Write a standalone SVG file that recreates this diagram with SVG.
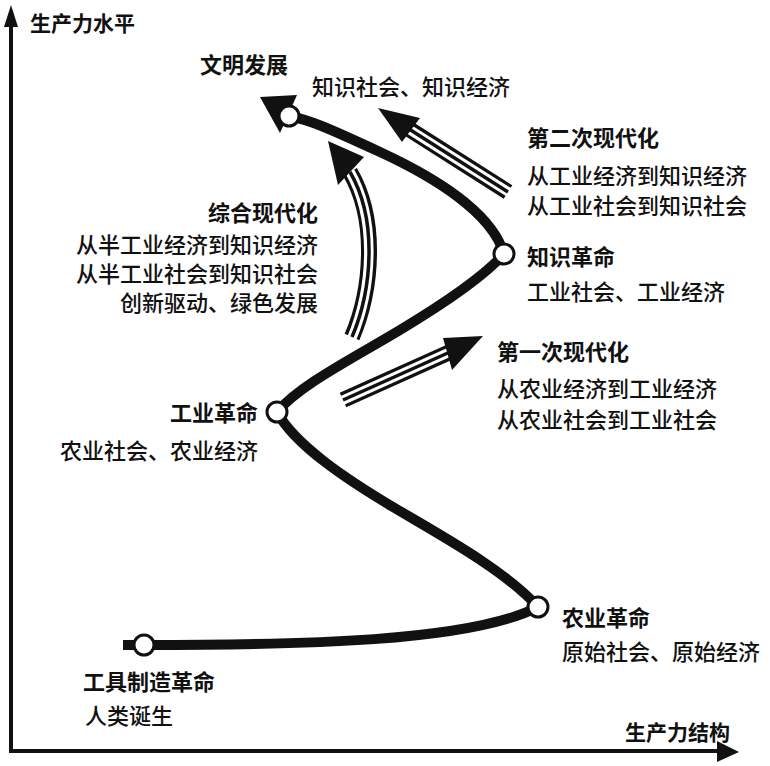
<svg xmlns="http://www.w3.org/2000/svg" width="770" height="766" viewBox="0 0 770 766">
<style>
text{font-family:"Noto Sans CJK SC","Noto Sans",sans-serif;font-size:22px;fill:#111;font-weight:500}
.t{font-weight:700}
.ax{font-weight:700;font-size:21px}
.e{text-anchor:end}
.node{fill:#fff;stroke:#111;stroke-width:3}
.main{fill:none;stroke:#111;stroke-width:10}
.tb{fill:none;stroke:#111;stroke-width:16}
.tw{fill:none;stroke:#fff;stroke-width:9.5}
.tc{fill:none;stroke:#111;stroke-width:3.5}
.head{fill:#111}
</style>
<rect width="770" height="766" fill="#fff"/>
<g id="axes">
<line x1="11" y1="751" x2="11" y2="22" stroke="#111" stroke-width="4"/>
<polygon points="11,5 4,27 18,27" fill="#111"/>
<line x1="9" y1="751" x2="720" y2="751" stroke="#111" stroke-width="4"/>
<polygon points="739,752 717,741 717,762" fill="#111"/>
<text class="ax" x="30" y="31">生产力水平</text>
<text class="ax" x="625" y="740">生产力结构</text>
</g>
<g id="connectors">
<path class="main" d="M123,645 L144,645 C300,645 470,642 538,607"/>
<path class="main" d="M538,607 C505,570 440,535 393,507 S295,445 277,412"/>
<path class="main" d="M277,412 C300,385 350,360 400,330 S485,275 504,254"/>
<path class="main" d="M504,254 C492,212 432,176 380,152 S310,120 289,116"/>
<polygon class="head" points="260,97 297,95 280,133"/>
<g id="arrow-first">
<path class="tb" d="M343,400 L450,352"/>
<path class="tw" d="M341,401 L452,351"/>
<path class="tc" d="M343,400 L450,352"/>
<polygon class="head" points="483,336 443,338 452,370"/>
</g>
<g id="arrow-second">
<path class="tb" d="M508,192 L409,129"/>
<path class="tw" d="M510,193 L407,128"/>
<path class="tc" d="M508,192 L409,129"/>
<polygon class="head" points="378,108 420,118 402,142"/>
</g>
<g id="arrow-integrated">
<path class="tb" d="M352,337 C372,290 378,220 350,172"/>
<path class="tw" d="M351.5,339 C372,290 378,220 349,170"/>
<path class="tc" d="M352,337 C372,290 378,220 350,172"/>
<polygon class="head" points="328,141 364,157 338,185"/>
</g>
</g>
<g id="node-tool">
<circle class="node" cx="144" cy="645" r="10"/>
<text class="t" x="83" y="690">工具制造革命</text>
<text x="85" y="724">人类诞生</text>
</g>
<g id="node-agri">
<circle class="node" cx="538" cy="607" r="10"/>
<text class="t" x="562" y="626">农业革命</text>
<text x="562" y="660">原始社会、原始经济</text>
</g>
<g id="node-industry">
<circle class="node" cx="277" cy="412" r="10"/>
<text class="t e" x="258" y="421">工业革命</text>
<text class="e" x="258" y="459">农业社会、农业经济</text>
</g>
<g id="node-knowledge">
<circle class="node" cx="504" cy="254" r="10"/>
<text class="t" x="527" y="265">知识革命</text>
<text x="527" y="300">工业社会、工业经济</text>
</g>
<g id="node-civ">
<circle class="node" cx="289" cy="116" r="10"/>
<text class="t" x="200" y="73">文明发展</text>
<text x="312" y="95">知识社会、知识经济</text>
</g>
<g id="label-first">
<text class="t" x="497" y="360">第一次现代化</text>
<text x="497" y="397">从农业经济到工业经济</text>
<text x="497" y="428">从农业社会到工业社会</text>
</g>
<g id="label-second">
<text class="t" x="527" y="146">第二次现代化</text>
<text x="527" y="184">从工业经济到知识经济</text>
<text x="527" y="214">从工业社会到知识社会</text>
</g>
<g id="label-integrated">
<text class="t e" x="318" y="221">综合现代化</text>
<text class="e" x="318" y="253">从半工业经济到知识经济</text>
<text class="e" x="318" y="282">从半工业社会到知识社会</text>
<text class="e" x="318" y="311">创新驱动、绿色发展</text>
</g>
</svg>
